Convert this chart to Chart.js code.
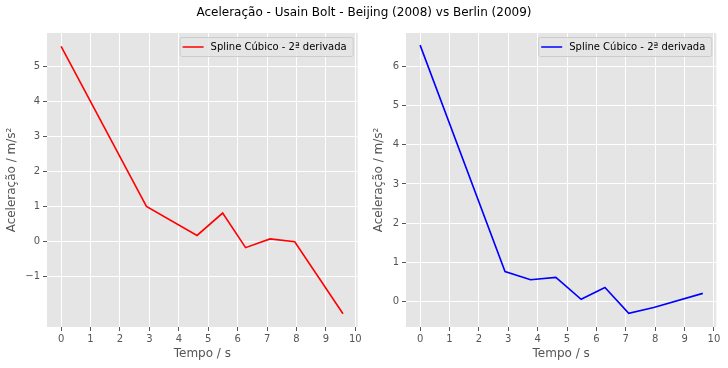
<!DOCTYPE html>
<html>
<head>
<meta charset="utf-8">
<script src="https://cdn.jsdelivr.net/npm/chart.js@4/dist/chart.umd.min.js"></script>
<style>
  body { margin: 0; background: #fff; }
  #wrap { position: relative; width: 728px; height: 368px; }
  #title { position: absolute; left: 0; top: 5px; width: 728px; text-align: center;
           font: 12px "DejaVu Sans"; color: #000; }
  canvas { position: absolute; top: 0; }
</style>
</head>
<body>
<div id="wrap">
  <canvas id="left" width="364" height="368" style="left:0"></canvas>
  <canvas id="right" width="364" height="368" style="left:364px"></canvas>
  <div id="title">Aceleração - Usain Bolt - Beijing (2008) vs Berlin (2009)</div>
</div>
<script>
// Beijing 2008
let timesL = [0, 2.90, 4.62, 5.49, 6.27, 7.10, 7.94, 9.58];
let accelL = [5.58, 1.00, 0.17, 0.81, -0.18, 0.07, -0.01, -2.07];
// Berlin 2009
let timesR = [0, 2.89, 3.76, 4.62, 5.48, 6.29, 7.10, 7.95, 9.62];
let accelR = [6.55, 0.76, 0.55, 0.61, 0.05, 0.35, -0.31, -0.16, 0.20];

let xTicks = [0, 1, 2, 3, 4, 5, 6, 7, 8, 9, 10];
let yTicksL = [-1, 0, 1, 2, 3, 4, 5];
let yTicksR = [0, 1, 2, 3, 4, 5, 6];
let legendLabel = "Spline Cúbico - 2ª derivada";

let font = "DejaVu Sans";

// grey panel behind the plot
let panelBg = {
    id: "panelBg",
    beforeDraw(chart) {
        let a = chart.chartArea, ctx = chart.ctx;
        ctx.save();
        ctx.fillStyle = "#E5E5E5";
        ctx.fillRect(a.left, a.top, a.right - a.left, a.bottom - a.top);
        ctx.restore();
    }
};

// legend box inside the upper right corner
let boxLegend = {
    id: "boxLegend",
    afterDraw(chart) {
        let a = chart.chartArea, ctx = chart.ctx;
        let ds = chart.data.datasets[0];
        ctx.save();
        ctx.font = "10px '" + font + "'";
        let tw = ctx.measureText(ds.label).width;
        let w = tw + 37, h = 19;
        let x = a.right - 5 - w, y = a.top + 4;
        ctx.beginPath();
        ctx.roundRect(x + 0.5, y + 0.5, w, h, 2);
        ctx.fillStyle = "rgba(229,229,229,0.8)";
        ctx.fill();
        ctx.strokeStyle = "#cccccc";
        ctx.lineWidth = 1;
        ctx.stroke();
        ctx.beginPath();
        ctx.moveTo(x + 3, y + h / 2 + 0.5);
        ctx.lineTo(x + 24, y + h / 2 + 0.5);
        ctx.strokeStyle = ds.borderColor;
        ctx.lineWidth = 1.5;
        ctx.stroke();
        ctx.fillStyle = "#000";
        ctx.textBaseline = "middle";
        ctx.fillText(ds.label, x + 31, y + h / 2 + 1);
        ctx.restore();
    }
};

function fmt(v) {
    return v < 0 ? "\u2212" + Math.abs(v) : String(v);
}

function makeChart(id, times, accel, color, yTicks, ymin, ymax, yw, padRight, titlePad) {
    let ctx = document.getElementById(id).getContext("2d");
    return new Chart(ctx, {
        type: "line",
        data: {
            datasets: [{
                label: legendLabel,
                data: times.map((t, i) => ({ x: t, y: accel[i] })),
                borderColor: color,
                borderWidth: 1.6,
                pointRadius: 0,
                tension: 0,
                fill: false
            }]
        },
        options: {
            responsive: false,
            animation: false,
            devicePixelRatio: 1,
            layout: { padding: { top: 33, right: padRight, left: 0, bottom: 0 } },
            plugins: {
                legend: { display: false },
                tooltip: { enabled: false }
            },
            scales: {
                x: {
                    type: "linear",
                    min: -0.48,
                    max: 10.08,
                    afterBuildTicks: s => { s.ticks = xTicks.map(v => ({ value: v })); },
                    afterFit: s => { s.height = 41; },
                    grid: { color: "#ffffff", lineWidth: 1, tickColor: "#555555", tickLength: 4 },
                    border: { display: false },
                    ticks: { color: "#555555", font: { family: font, size: 10 }, padding: 2,
                             maxRotation: 0, callback: v => fmt(v) },
                    title: { display: true, text: "Tempo / s", color: "#555555",
                             font: { family: font, size: 12 }, padding: { top: 0, bottom: 7 } }
                },
                y: {
                    min: ymin,
                    max: ymax,
                    afterBuildTicks: s => { s.ticks = yTicks.map(v => ({ value: v })); },
                    afterFit: s => { s.width = yw; },
                    grid: { color: "#ffffff", lineWidth: 1, tickColor: "#555555", tickLength: 4 },
                    border: { display: false },
                    ticks: { color: "#555555", font: { family: font, size: 10 }, padding: 3,
                             callback: v => fmt(v) },
                    title: { display: true, text: "Aceleração / m/s²", color: "#555555",
                             font: { family: font, size: 12 }, padding: { top: titlePad, bottom: 0 } }
                }
            }
        },
        plugins: [panelBg, boxLegend]
    });
}

makeChart("left", timesL, accelL, "#ff0000", yTicksL, -2.45, 5.96, 47, 6.3, 5);
makeChart("right", timesR, accelR, "#0000ff", yTicksR, -0.66, 6.86, 42, 11.7, 8);
</script>
</body>
</html>
